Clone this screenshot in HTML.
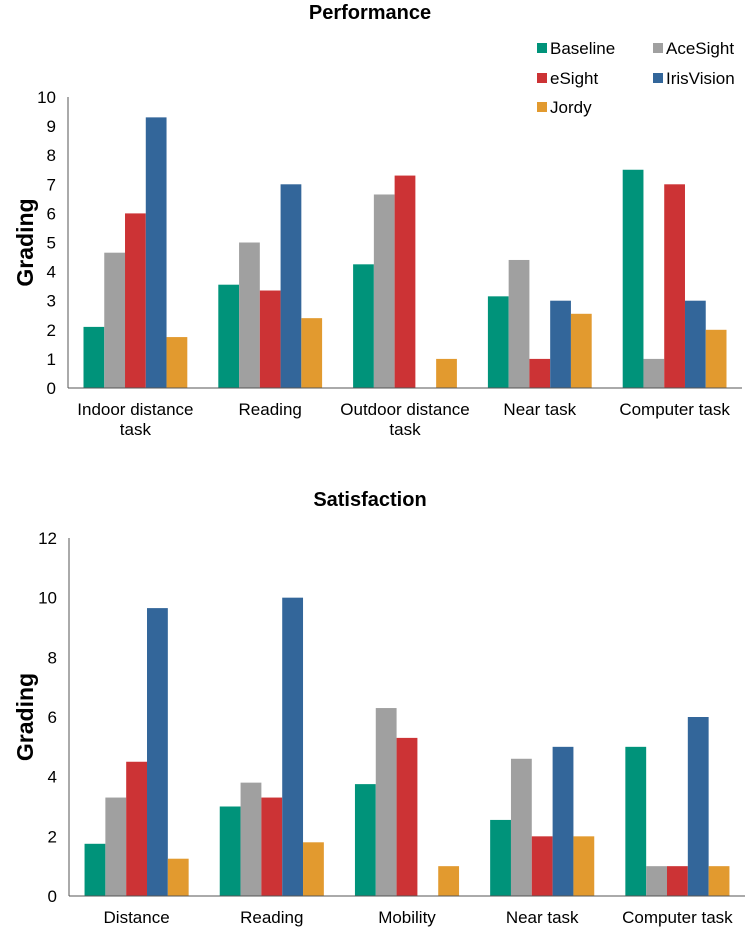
<!DOCTYPE html>
<html><head><meta charset="utf-8">
<style>
body{margin:0;background:#fff;font-family:"Liberation Sans",Arial,sans-serif;}
svg text{font-family:"Liberation Sans",Arial,sans-serif;}
</style></head>
<body>
<svg id="chart" width="750" height="929" viewBox="0 0 750 929">
</svg>
<script>
const seriesNames = ["Baseline","AceSight","eSight","IrisVision","Jordy"];
const seriesColors = ["#00937a","#a0a0a0","#cc3335","#33669a","#e29a2f"];
const perfCategories = [["Indoor distance","task"],["Reading"],["Outdoor distance","task"],["Near task"],["Computer task"]];
const perfBaseline = [2.1,3.55,4.25,3.15,7.5];
const perfAceSight = [4.65,5,6.65,4.4,1];
const perfESight = [6,3.35,7.3,1,7];
const perfIrisVision = [9.3,7,0,3,3];
const perfJordy = [1.75,2.4,1,2.55,2];
const perfTicks = [0,1,2,3,4,5,6,7,8,9,10];
const satCategories = [["Distance"],["Reading"],["Mobility"],["Near task"],["Computer task"]];
const satBaseline = [1.75,3,3.75,2.55,5];
const satAceSight = [3.3,3.8,6.3,4.6,1];
const satESight = [4.5,3.3,5.3,2,1];
const satIrisVision = [9.65,10,0,5,6];
const satJordy = [1.25,1.8,1,2,1];
const satTicks = [0,2,4,6,8,10,12];

const NS="http://www.w3.org/2000/svg";
const svg=document.getElementById('chart');
function mk(tag,attrs,parent,text){const e=document.createElementNS(NS,tag);for(const k in attrs)e.setAttribute(k,attrs[k]);if(text!==undefined)e.textContent=text;(parent||svg).appendChild(e);return e;}

function drawChart(name,title,titleY,cats,series,ticks,x0,x1,y0,y1,maxV){
  const g=mk('g',{});
  
  
  const yS=v=>y0-(v/maxV)*(y0-y1);
  const gw=(x1-x0)/cats.length;
  const bw=gw*0.77/series.length;
  const t=mk('text',{x:370,y:titleY,'text-anchor':'middle','font-size':'20','font-weight':'bold',fill:'#000'},g,title);
  
  
  const yt=mk('text',{transform:`translate(33,${(y0+y1)/2}) rotate(-90)`,'text-anchor':'middle','font-size':'23','font-weight':'bold',fill:'#000'},g,'Grading');
  
  
  ticks.forEach(v=>{
    const tl=mk('text',{x:x0-12,y:yS(v)+6,'text-anchor':'end','font-size':'17',fill:'#000'},g,String(v));
    
    
  });
  cats.forEach((c,i)=>{
    const cx=x0+gw*(i+0.5);
    series.forEach((s,j)=>{
      const v=s[i];
      if(v<=0)return;
      const r=mk('rect',{x:cx-bw*series.length/2+j*bw,y:yS(v),width:bw,height:y0-yS(v),fill:seriesColors[j]},g);
      
      
    });
    c.forEach((line,k)=>{
      const tl=mk('text',{x:cx,y:y0+27+k*20,'text-anchor':'middle','font-size':'17',fill:'#000'},g,line);
      
      
    });
  });
  const ya=mk('line',{x1:x0,y1:y1,x2:x0,y2:y0,stroke:'#555','stroke-width':1},g);
  
  
  const xa=mk('line',{x1:x0,y1:y0,x2:x1,y2:y0,stroke:'#555','stroke-width':1},g);
  
  
}
drawChart('performance-chart','Performance',19,perfCategories,[perfBaseline,perfAceSight,perfESight,perfIrisVision,perfJordy],perfTicks,68,742,388,97,10);
drawChart('satisfaction-chart','Satisfaction',506,satCategories,[satBaseline,satAceSight,satESight,satIrisVision,satJordy],satTicks,69,745,896,538,12);

// legend
const lg=mk('g',{});


const legPos=[[537,48],[653,48],[537,78],[653,78],[537,107]];
seriesNames.forEach((n,i)=>{
  const [lx,ly]=legPos[i];
  const sq=mk('rect',{x:lx,y:ly-5,width:10,height:10,fill:seriesColors[i]},lg);
  
  
  const tx=mk('text',{x:lx+13,y:ly+6,'font-size':'17',fill:'#000'},lg,n);
  
  
});
</script>
</body></html>
